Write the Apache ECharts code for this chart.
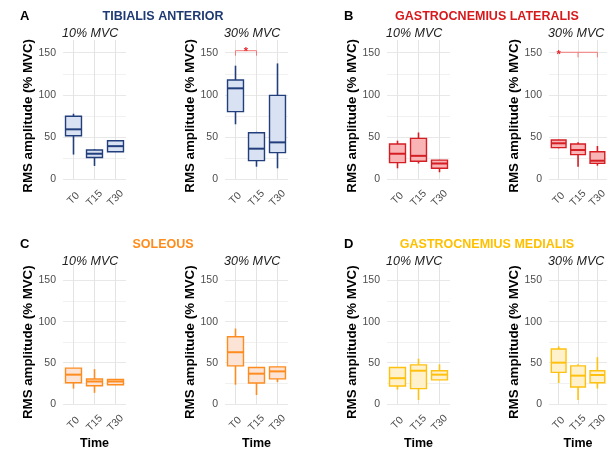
<!DOCTYPE html>
<html>
<head>
<meta charset="utf-8">
<script src="https://cdn.jsdelivr.net/npm/echarts@6/dist/echarts.min.js"></script>
<style>
  html, body { margin: 0; padding: 0; background: #fff; }
  #chart { width: 609px; height: 451px; }
</style>
</head>
<body>
<div id="chart"></div>
<script>
// time points and y tick labels
const categories = ['T0', 'T15', 'T30']
const yTicks = [0, 50, 100, 150]

// box stats per time point: [min, q1, median, q3, max]  (% MVC)
const taLow = [[29, 51.4, 59, 74.5, 77.5], [15.5, 25.5, 30, 34.5, 35.5], [32, 32.4, 39, 45.5, 46]]
const taHigh = [[65, 80, 107.7, 117.5, 134.6], [14.6, 21.8, 36, 55, 56], [12.7, 31.3, 43.5, 99.3, 137.3]]
const glLow = [[12.7, 19.4, 30, 41.6, 45.5], [18.4, 21, 27.5, 48.3, 55.2], [8, 12.7, 18.4, 22.4, 22.8]]
const glHigh = [[36.4, 37.2, 42.4, 46.3, 46.6], [14.6, 28.9, 34.4, 41.6, 43.6], [15.8, 18.6, 21.7, 32.4, 39.2]]
const solLow = [[18.5, 25.6, 35.5, 43.4, 43.6], [13.4, 22, 27.2, 30.3, 42.2], [22.8, 23.2, 27.2, 29.6, 30]]
const solHigh = [[23.3, 46.2, 62.8, 81.7, 91.6], [10.7, 25.3, 36.7, 44.2, 44.5], [26.4, 30.4, 39.5, 45, 45.5]]
const gmLow = [[17.3, 21.7, 31.2, 44.2, 44.6], [4.7, 18.5, 40.3, 47.4, 54.9], [29, 29.1, 35.5, 40.3, 48.1]]
const gmHigh = [[25.3, 38.3, 50.1, 66.7, 69.9], [4.7, 20.5, 34.3, 46.2, 48.2], [18.6, 25.7, 35.1, 40.3, 56.8]]

// significance brackets: [from, to, level, dropTo, starX, starY]
const taHighSig = [0, 1, 152.4, 146.5, 0.5, 154.5]
const glHighSig = [0, 2, 150.5, 144.5, 0, 150.5]

const FONT = 'Liberation Sans, Arial, sans-serif'

const muscles = [
  { letter: 'A', name: 'TIBIALIS ANTERIOR', color: '#1F3A73', stroke: '#223F7C', fill: '#D9E2F3', left: [63, 225], top: 46.4, height: 138.9, low: taLow, high: taHigh, sig: taHighSig },
  { letter: 'B', name: 'GASTROCNEMIUS LATERALIS', color: '#D7191C', stroke: '#D41E24', fill: '#F9B5B5', left: [387, 549], top: 46.4, height: 138.9, low: glLow, high: glHigh, sig: glHighSig },
  { letter: 'C', name: 'SOLEOUS', color: '#FF8C1A', stroke: '#FF8C1F', fill: '#FBE4D5', left: [63, 225], top: 274.4, height: 139.2, low: solLow, high: solHigh, time: true },
  { letter: 'D', name: 'GASTROCNEMIUS MEDIALIS', color: '#FFC000', stroke: '#FFC10F', fill: '#FFF1CB', left: [387, 549], top: 274.4, height: 139.2, low: gmLow, high: gmHigh, time: true }
]

const grid = []
const xAxis = []
const yAxis = []
const series = []
const graphic = []

function boxItem(stroke, fill) {
  return function (params, api) {
    const x = api.value(0)
    const pMin = api.coord([x, api.value(1)])
    const pQ1 = api.coord([x, api.value(2)])
    const pMed = api.coord([x, api.value(3)])
    const pQ3 = api.coord([x, api.value(4)])
    const pMax = api.coord([x, api.value(5)])
    const half = api.size([1, 0])[0] * 0.38
    const cx = pMed[0]
    return {
      type: 'group',
      children: [
        { type: 'line', shape: { x1: cx, y1: pMax[1], x2: cx, y2: pQ3[1] }, style: { stroke: stroke, lineWidth: 1.6 } },
        { type: 'line', shape: { x1: cx, y1: pQ1[1], x2: cx, y2: pMin[1] }, style: { stroke: stroke, lineWidth: 1.6 } },
        { type: 'rect', shape: { x: cx - half, y: pQ3[1], width: half * 2, height: pQ1[1] - pQ3[1] }, style: { fill: fill, stroke: stroke, lineWidth: 1.4 } },
        { type: 'line', shape: { x1: cx - half, y1: pMed[1], x2: cx + half, y2: pMed[1] }, style: { stroke: stroke, lineWidth: 2 } }
      ]
    }
  }
}

function sigItem(params, api) {
  const from = api.value(0)
  const to = api.value(1)
  const a = api.coord([from, api.value(2)])
  const b = api.coord([to, api.value(2)])
  const drop = api.coord([to, api.value(3)])[1]
  const starX = api.value(4)
  const s0 = api.coord([Math.floor(starX), api.value(5)])
  const s1 = api.coord([Math.ceil(starX), api.value(5)])
  const sx = s0[0] + (s1[0] - s0[0]) * (starX - Math.floor(starX))
  const children = [
    { type: 'line', shape: { x1: a[0], y1: a[1], x2: b[0], y2: b[1] }, style: { stroke: '#F27A7A', lineWidth: 1 } },
    { type: 'line', shape: { x1: b[0], y1: b[1], x2: b[0], y2: drop }, style: { stroke: '#F27A7A', lineWidth: 1 } }
  ]
  // left drop: at the start unless the star sits there
  const mid = api.coord([from + 1, api.value(2)])
  if (starX === from) {
    children.push({ type: 'line', shape: { x1: mid[0], y1: mid[1], x2: mid[0], y2: drop }, style: { stroke: '#F27A7A', lineWidth: 1 } })
  } else {
    children.push({ type: 'line', shape: { x1: a[0], y1: a[1], x2: a[0], y2: drop }, style: { stroke: '#F27A7A', lineWidth: 1 } })
  }
  children.push({ type: 'text', x: sx, y: s0[1] + 3, style: { text: '*', fill: '#E8262B', font: 'bold 11px ' + FONT, align: 'center', verticalAlign: 'middle' } })
  return { type: 'group', children: children }
}

muscles.forEach(function (m, mi) {
  const titleY = m.top - 30.3
  const baseX = m.left[0]
  graphic.push({ type: 'text', x: baseX - 43, y: titleY, style: { text: m.letter, fill: '#000', font: 'bold 13px ' + FONT, verticalAlign: 'middle' } })
  graphic.push({ type: 'text', x: baseX + 100, y: titleY, style: { text: m.name, fill: m.color, font: 'bold 12.5px ' + FONT, align: 'center', verticalAlign: 'middle' } })
  ;[m.low, m.high].forEach(function (stats, k) {
    const gi = grid.length
    grid.push({ left: m.left[k], top: m.top, width: 63, height: m.height })
    graphic.push({ type: 'text', x: m.left[k] - 1, y: m.top - 12.8, style: { text: k === 0 ? '10% MVC' : '30% MVC', fill: '#222', font: 'italic 12.5px ' + FONT, verticalAlign: 'middle' } })
    xAxis.push({
      type: 'category', gridIndex: gi, data: categories,
      name: m.time ? 'Time' : '', nameLocation: 'middle', nameGap: 27,
      nameTextStyle: { fontFamily: FONT, fontWeight: 'bold', fontSize: 12.5, color: '#000' },
      axisLine: { show: false },
      axisTick: { show: true, inside: true, alignWithLabel: true, interval: 0, length: m.height, lineStyle: { color: '#E3E3E3', width: 1 } },
      axisLabel: { interval: 0, hideOverlap: false, rotate: 45, align: 'center', verticalAlign: 'middle', fontFamily: FONT, fontSize: 10.5, color: '#4D4D4D', margin: 13 },
      splitLine: { show: false }
    })
    yAxis.push({
      type: 'value', gridIndex: gi, min: -7.5, max: 157.5, splitNumber: 3,
      name: 'RMS amplitude (% MVC)', nameLocation: 'middle', nameGap: 28,
      nameTextStyle: { fontFamily: FONT, fontWeight: 'bold', fontSize: 13.3, color: '#000' },
      axisLine: { show: false },
      axisTick: { show: false },
      axisLabel: {
        fontFamily: FONT, fontSize: 10.5, color: '#4D4D4D', margin: 7,
        showMinLabel: false, showMaxLabel: false,
        formatter: function (v) { return yTicks.indexOf(v) >= 0 ? String(v) : '' }
      },
      splitLine: { show: true, showMinLine: false, showMaxLine: false, lineStyle: { color: '#E8E8E8', width: 1 } },
      minorTick: { show: false, splitNumber: 2 },
      minorSplitLine: { show: true, lineStyle: { color: '#F1F1F1', width: 1 } }
    })
    series.push({
      type: 'custom', xAxisIndex: gi, yAxisIndex: gi,
      renderItem: boxItem(m.stroke, m.fill),
      encode: { x: 0, y: [1, 2, 3, 4, 5] },
      data: stats.map(function (s, i) { return [i].concat(s) })
    })
    if (k === 1 && m.sig) {
      series.push({
        type: 'custom', xAxisIndex: gi, yAxisIndex: gi, clip: false,
        renderItem: sigItem,
        encode: { x: [0, 1], y: [2, 3] },
        data: [m.sig]
      })
    }
  })
})

const chart = echarts.init(document.getElementById('chart'))
chart.setOption({
  animation: false,
  backgroundColor: '#fff',
  grid: grid,
  xAxis: xAxis,
  yAxis: yAxis,
  series: series,
  graphic: graphic
})
</script>
</body>
</html>
